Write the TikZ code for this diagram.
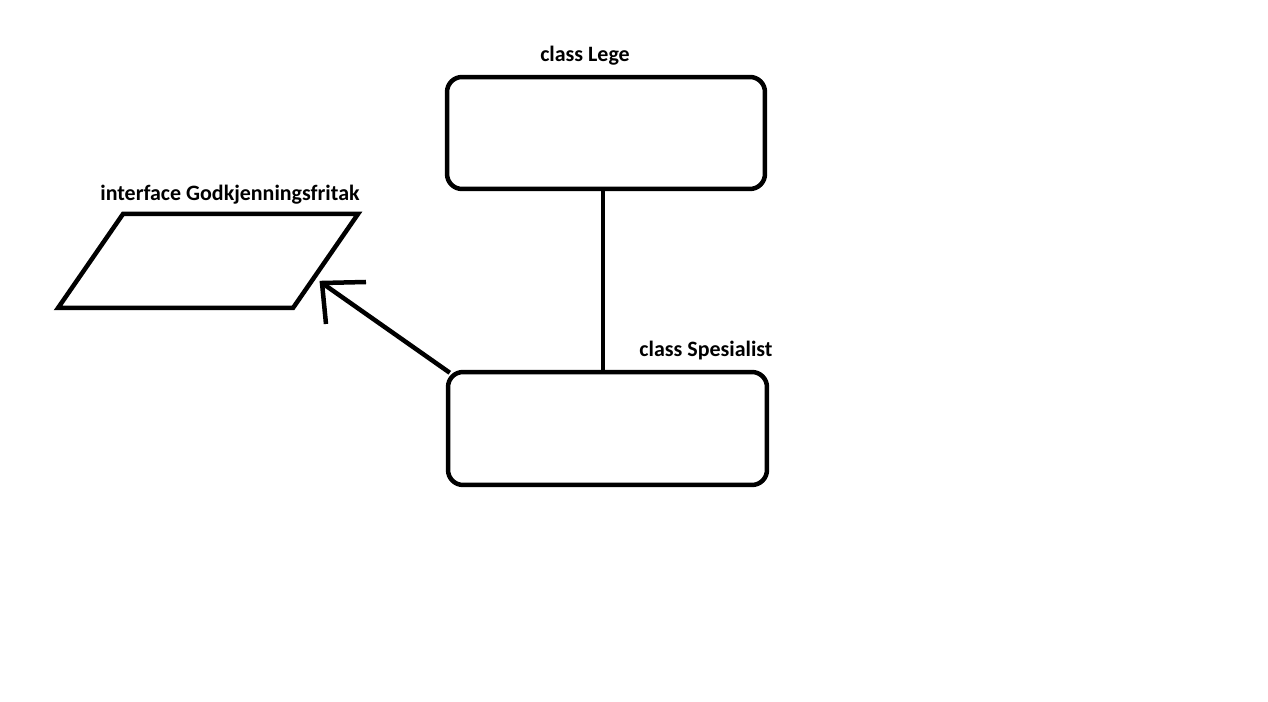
\documentclass[tikz,border=0pt]{standalone}
\usepackage{fontspec}
\setmainfont{Carlito}
\usetikzlibrary{positioning}
\tikzset{line join=round, line cap=round}
\tikzset{classbox/.style={draw, line width=0.09cm, rounded corners=0.3cm,
    minimum width=6.36cm, minimum height=2.24cm, inner sep=0pt}}
\tikzset{caption/.style={font=\fontsize{12.5}{15}\selectfont\bfseries, inner sep=0pt}}

\begin{document}
\begin{tikzpicture}[x=0.02cm, y=-0.02cm]
                \useasboundingbox (0, 0) rectangle (1268, 702);%
                \node [classbox] (lege) at (606, 133) {};%
                \node [classbox, minimum width=6.38cm, minimum height=2.26cm] (spes) at (607.5, 428.5) {};%
                \node [caption] (legelbl) at (585, 56) {class Lege};%
                \node [caption] (speslbl) at (706, 351) {class Spesialist};%
                \node [caption] (godklbl) at (230, 195) {interface Godkjenningsfritak};%
                % the interface
                \coordinate (p1) at (123, 214);%
                \coordinate (p2) at (358, 214);%
                \coordinate (p3) at (293, 308);%
                \coordinate (p4) at (58, 308);%
                \draw [line width=0.09cm] (p1) -- (p2) -- (p3) -- (p4) -- cycle;%
                % inheritance
                \draw [line width=0.09cm] (lege.south -| 603, 0) -- (spes.north -| 603, 0);%
                % implements
                \coordinate (tip) at (322, 283);%
                \coordinate (hd1) at (366, 282);%
                \coordinate (hd2) at (326, 324);%
                \draw [line width=0.09cm] (spes.north west) ++(4, 3) -- (tip);%
                \draw [line width=0.09cm] (hd1) -- (tip) -- (hd2);%
              \end{tikzpicture}
\end{document}
